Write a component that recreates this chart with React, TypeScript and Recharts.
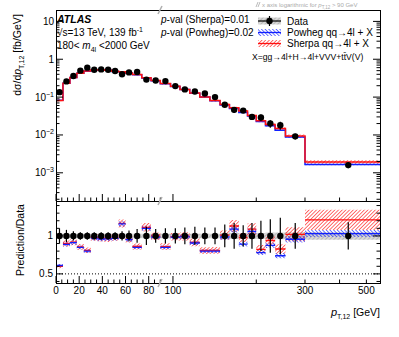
import React from "react";
import {
  ComposedChart, Line, Area, Scatter, XAxis, YAxis, ErrorBar, ReferenceLine,
} from "recharts";

// pT,12 bin edges [GeV]
const binEdges = [0, 6, 12, 18, 24, 30, 36, 42, 48, 54, 60, 66, 74, 82, 90, 98, 106, 115, 125, 136, 148, 160, 173, 186, 200, 216, 234, 255, 300, 560];
// where the data markers sit [GeV]
const pointPt = [3, 9, 15, 21, 27, 33, 39, 45, 51, 57, 63, 70, 78, 86, 93.9, 102, 110.4, 120, 130.4, 141.9, 153.9, 166.4, 179.4, 193, 207.9, 224.8, 244.3, 276.6, 430];
// measured dσ/dpT [fb/GeV]
const dataXsec = [0.135, 0.26, 0.36, 0.5, 0.6, 0.53, 0.54, 0.53, 0.49, 0.4, 0.45, 0.46, 0.29, 0.275, 0.265, 0.195, 0.16, 0.14, 0.125, 0.1, 0.063, 0.046, 0.044, 0.03, 0.029, 0.02, 0.018, 0.0092, 0.0016];
const dataRelErr = [0.1, 0.08, 0.06, 0.05, 0.05, 0.05, 0.05, 0.05, 0.05, 0.06, 0.07, 0.09, 0.12, 0.09, 0.1, 0.1, 0.11, 0.12, 0.11, 0.11, 0.15, 0.17, 0.14, 0.17, 0.2, 0.22, 0.24, 0.17, 0.18];
const dataRelSyst = [0.03, 0.03, 0.03, 0.03, 0.03, 0.03, 0.03, 0.03, 0.03, 0.03, 0.03, 0.03, 0.03, 0.03, 0.03, 0.03, 0.03, 0.03, 0.03, 0.03, 0.035, 0.04, 0.035, 0.04, 0.04, 0.045, 0.045, 0.05, 0.05];
// predictions
const sherpa = [0.081, 0.234, 0.331, 0.428, 0.486, 0.519, 0.524, 0.511, 0.48, 0.466, 0.43, 0.396, 0.323, 0.274, 0.228, 0.193, 0.159, 0.128, 0.101, 0.081, 0.0636, 0.052, 0.0431, 0.0327, 0.0239, 0.0188, 0.0149, 0.0094, 0.00194];
const sherpaRelUnc = [0.045, 0.045, 0.045, 0.045, 0.045, 0.045, 0.045, 0.045, 0.045, 0.045, 0.045, 0.045, 0.05, 0.05, 0.05, 0.05, 0.055, 0.055, 0.055, 0.055, 0.06, 0.07, 0.06, 0.07, 0.07, 0.07, 0.075, 0.09, 0.11];
const powheg = [0.0824, 0.231, 0.328, 0.425, 0.48, 0.514, 0.518, 0.509, 0.475, 0.464, 0.428, 0.391, 0.319, 0.271, 0.225, 0.192, 0.158, 0.127, 0.1, 0.08, 0.0621, 0.0501, 0.0392, 0.0318, 0.0226, 0.0175, 0.0133, 0.0088, 0.00165];
const powhegRelUnc = [0.03, 0.03, 0.03, 0.03, 0.03, 0.03, 0.03, 0.03, 0.03, 0.03, 0.03, 0.03, 0.03, 0.03, 0.03, 0.03, 0.03, 0.03, 0.03, 0.03, 0.035, 0.04, 0.035, 0.04, 0.04, 0.04, 0.045, 0.045, 0.045];

// axis ticks
const xTickPt = [0, 5, 10, 15, 20, 25, 30, 35, 40, 45, 50, 55, 60, 65, 70, 75, 80, 85, 90, 100, 200, 300, 400, 500];
const xLabelPt = [0, 20, 40, 60, 80, 100, 300, 500];
const yLogTicks = [0.0002, 0.0003, 0.0004, 0.0005, 0.0006, 0.0007, 0.0008, 0.0009, 0.001, 0.002, 0.003, 0.004, 0.005, 0.006, 0.007, 0.008, 0.009, 0.01, 0.02, 0.03, 0.04, 0.05, 0.06, 0.07, 0.08, 0.09, 0.1, 0.2, 0.3, 0.4, 0.5, 0.6, 0.7, 0.8, 0.9, 1, 2, 3, 4, 5, 6, 7, 8, 9, 10];
const ratioTicks = [0.4, 0.5, 0.6, 0.7, 0.8, 0.9, 1, 1.1, 1.2, 1.3, 1.4];

// x axis: linear up to 90 GeV, logarithmic above
const BREAK = 90;
const U_PER_DECADE = 238.8;
const toU = (pt: number) => (pt <= BREAK ? pt : BREAK + Math.log10(pt / BREAK) * U_PER_DECADE);
const fromU = (u: number) => (u <= BREAK ? u : BREAK * Math.pow(10, (u - BREAK) / U_PER_DECADE));
const U_MAX = toU(binEdges[binEdges.length - 1]);

const nBins = dataXsec.length;
const FONT = "'Liberation Sans', Arial, Helvetica, sans-serif";

const topSteps = binEdges.map((e, i) => {
  const j = Math.min(i, nBins - 1);
  return {
    u: toU(e),
    sherpa: sherpa[j],
    powheg: powheg[j],
    sherpaBand: [sherpa[j] * (1 - sherpaRelUnc[j]), sherpa[j] * (1 + sherpaRelUnc[j])],
    powhegBand: [powheg[j] * (1 - powhegRelUnc[j]), powheg[j] * (1 + powhegRelUnc[j])],
  };
});
const topPoints = dataXsec.map((v, i) => ({ u: toU(pointPt[i]), y: v, err: v * dataRelErr[i] }));

const ratioBoxes: any[] = [];
for (let i = 0; i < nBins; i++) {
  const rs = sherpa[i] / dataXsec[i];
  const rp = powheg[i] / dataXsec[i];
  const row = {
    rs, rp,
    rsBand: [rs * (1 - sherpaRelUnc[i]), rs * (1 + sherpaRelUnc[i])],
    rpBand: [rp * (1 - powhegRelUnc[i]), rp * (1 + powhegRelUnc[i])],
  };
  ratioBoxes.push({ u: toU(binEdges[i]), ...row });
  ratioBoxes.push({ u: toU(binEdges[i + 1]), ...row });
  ratioBoxes.push({ u: toU(binEdges[i + 1]), rs: null, rp: null, rsBand: null, rpBand: null });
}
const ratioSyst = binEdges.map((e, i) => {
  const s = dataRelSyst[Math.min(i, nBins - 1)];
  return { u: toU(e), band: [1 - s, 1 + s] };
});
const ratioPoints = pointPt.map((p, i) => ({ u: toU(p), y: 1, err: dataRelErr[i] }));

function XTick(props: any) {
  const { x, y, payload, labels } = props;
  const pt = Math.round(fromU(payload.value));
  const major = pt <= 100 && pt % 20 === 0;
  const len = major ? 7 : 3.5;
  return (
    <g>
      <line x1={x} y1={y} x2={x} y2={y - len} stroke="#000" strokeWidth={1} />
      {labels && xLabelPt.includes(pt) && (
        <text x={x} y={y + 11} textAnchor="middle" fontSize={10} fontFamily={FONT} fill="#000">{pt}</text>
      )}
    </g>
  );
}

function LogTick(props: any) {
  const { x, y, payload, side } = props;
  const e = Math.log10(payload.value);
  const major = Math.abs(e - Math.round(e)) < 1e-6;
  const len = major ? 7 : 3.5;
  const dir = side === "left" ? 1 : -1;
  const k = Math.round(e);
  return (
    <g>
      <line x1={x} y1={y} x2={x + dir * len} y2={y} stroke="#000" strokeWidth={1} />
      {side === "left" && major && (
        <text x={x - 2} y={y + 3.5} textAnchor="end" fontSize={10} fontFamily={FONT} fill="#000">
          {k === 0 ? "1" : "10"}
          {k < 0 && <tspan dy={-4} fontSize={7}>{"\u2212" + -k}</tspan>}
        </text>
      )}
    </g>
  );
}

function RatioTick(props: any) {
  const { x, y, payload, side } = props;
  const v = payload.value;
  const major = Math.abs(v - 0.5) < 1e-6 || Math.abs(v - 1) < 1e-6;
  const len = major ? 7 : 3.5;
  const dir = side === "left" ? 1 : -1;
  return (
    <g>
      <line x1={x} y1={y} x2={x + dir * len} y2={y} stroke="#000" strokeWidth={1} />
      {side === "left" && major && (
        <text x={x - 3} y={y + 3.5} textAnchor="end" fontSize={10} fontFamily={FONT} fill="#000">{v === 1 ? "1" : "0.5"}</text>
      )}
    </g>
  );
}

const dot = (p: any) => <circle cx={p.cx} cy={p.cy} r={3.2} fill="#000" />;

function Slash({ x, y }: { x: number; y: number }) {
  return <line x1={x - 2} y1={y + 4} x2={x + 2} y2={y - 4} stroke="#b0b0b0" strokeWidth={1.6} />;
}

export default function App() {
  // CartesianAxis refuses to draw with a zero size, so axes get 1px
  const xAxisCommon = {
    type: "number" as const,
    dataKey: "u",
    domain: [0, U_MAX],
    ticks: xTickPt.map(toU),
    interval: 0,
    tickSize: 0,
    tickMargin: 0,
    height: 1,
    axisLine: false,
    tickLine: false,
    allowDataOverflow: true,
  };
  const yAxisCommon = {
    type: "number" as const,
    allowDataOverflow: true,
    interval: 0,
    width: 1,
    tickSize: 0,
    tickMargin: 0,
    axisLine: false,
    tickLine: false,
  };
  return (
    <div style={{ position: "absolute", left: 0, top: 0, width: 399, height: 337, background: "#fff", fontFamily: FONT }}>
      <svg width={0} height={0} style={{ position: "absolute" }}>
        <defs>
          <pattern id="hatchRed" patternUnits="userSpaceOnUse" width={2.6} height={2.6} patternTransform="rotate(45)">
            <line x1={0} y1={0} x2={0} y2={2.6} stroke="#ff1010" strokeWidth={1.2} />
          </pattern>
          <pattern id="hatchBlue" patternUnits="userSpaceOnUse" width={2.6} height={2.6} patternTransform="rotate(-45)">
            <line x1={0} y1={0} x2={0} y2={2.6} stroke="#1020ff" strokeWidth={1.2} />
          </pattern>
          <pattern id="hatchGray" patternUnits="userSpaceOnUse" width={3} height={3} patternTransform="rotate(45)">
            <rect width={3} height={3} fill="#d8d8d8" />
            <line x1={0} y1={0} x2={0} y2={3} stroke="#999" strokeWidth={1} />
          </pattern>
        </defs>
      </svg>

      {/* main panel */}
      <div style={{ position: "absolute", left: 0, top: 0 }}>
        <ComposedChart width={399} height={202} margin={{ top: 10, right: 18, left: 55, bottom: 0 }}>
          <XAxis {...xAxisCommon} tick={(p: any) => <XTick {...p} labels={false} />} />
          <YAxis yAxisId="l" {...yAxisCommon} scale="log" domain={[0.00018, 20]} ticks={yLogTicks}
            tick={(p: any) => <LogTick {...p} side="left" />} />
          <YAxis yAxisId="r" orientation="right" {...yAxisCommon} scale="log" domain={[0.00018, 20]} ticks={yLogTicks}
            tick={(p: any) => <LogTick {...p} side="right" />} />
          <Area yAxisId="l" data={topSteps} dataKey="powhegBand" type="stepAfter" stroke="none" fill="url(#hatchBlue)" fillOpacity={1} isAnimationActive={false} />
          <Area yAxisId="l" data={topSteps} dataKey="sherpaBand" type="stepAfter" stroke="none" fill="url(#hatchRed)" fillOpacity={1} isAnimationActive={false} />
          <Line yAxisId="l" data={topSteps} dataKey="powheg" type="stepAfter" stroke="#1020ff" strokeWidth={1.5} dot={false} isAnimationActive={false} />
          <Line yAxisId="l" data={topSteps} dataKey="sherpa" type="stepAfter" stroke="#ff1010" strokeWidth={1.5} dot={false} isAnimationActive={false} />
          <Scatter yAxisId="l" data={topPoints} dataKey="y" shape={dot} isAnimationActive={false}>
            <ErrorBar dataKey="err" direction="y" width={0} stroke="#000" strokeWidth={1.2} />
          </Scatter>
        </ComposedChart>
      </div>

      {/* ratio panel */}
      <div style={{ position: "absolute", left: 0, top: 0 }}>
        <ComposedChart width={399} height={337} margin={{ top: 201, right: 18, left: 55, bottom: 53 }}>
          <XAxis {...xAxisCommon} tick={(p: any) => <XTick {...p} labels={true} />} />
          <YAxis yAxisId="l" {...yAxisCommon} domain={[0.38, 1.46]} ticks={ratioTicks}
            tick={(p: any) => <RatioTick {...p} side="left" />} />
          <YAxis yAxisId="r" orientation="right" {...yAxisCommon} domain={[0.38, 1.46]} ticks={ratioTicks}
            tick={(p: any) => <RatioTick {...p} side="right" />} />
          <ReferenceLine yAxisId="l" y={0.5} stroke="#000" strokeDasharray="1 2" />
          <Area yAxisId="l" data={ratioSyst} dataKey="band" type="stepAfter" stroke="none" fill="url(#hatchGray)" fillOpacity={1} isAnimationActive={false} />
          <Area yAxisId="l" data={ratioBoxes} dataKey="rsBand" type="linear" stroke="none" fill="url(#hatchRed)" fillOpacity={1} isAnimationActive={false} />
          <Area yAxisId="l" data={ratioBoxes} dataKey="rpBand" type="linear" stroke="none" fill="url(#hatchBlue)" fillOpacity={1} isAnimationActive={false} />
          <Line yAxisId="l" data={ratioBoxes} dataKey="rs" type="linear" stroke="#ff1010" strokeWidth={1.3} dot={false} isAnimationActive={false} />
          <Line yAxisId="l" data={ratioBoxes} dataKey="rp" type="linear" stroke="#1020ff" strokeWidth={1.3} dot={false} isAnimationActive={false} />
          <Scatter yAxisId="l" data={ratioPoints} dataKey="y" shape={dot} isAnimationActive={false}>
            <ErrorBar dataKey="err" direction="y" width={0} stroke="#000" strokeWidth={1.2} />
          </Scatter>
        </ComposedChart>
      </div>

      {/* frames */}
      <div style={{ position: "absolute", left: 56, top: 10, width: 325, height: 192, border: "1px solid #000", boxSizing: "border-box", pointerEvents: "none" }} />
      <div style={{ position: "absolute", left: 56, top: 201, width: 325, height: 83, border: "1px solid #000", boxSizing: "border-box", pointerEvents: "none" }} />

      {/* texts and legend */}
      <svg width={399} height={337} style={{ position: "absolute", left: 0, top: 0, pointerEvents: "none" }} fontFamily={FONT}>
        <text x={262} y={7} fontSize={6} fill="#aaa">x axis logarithmic for <tspan fontStyle="italic">p</tspan><tspan dy={1.5} fontSize={4.5}>T,12</tspan><tspan dy={-1.5}> &gt; 90 GeV</tspan></text>
        <line x1={256} y1={7} x2={258} y2={2} stroke="#bbb" strokeWidth={1} />
        <line x1={258} y1={7} x2={260} y2={2} stroke="#bbb" strokeWidth={1} />
        <Slash x={160} y={10} />
        <Slash x={160} y={201} />
        <Slash x={160} y={283} />

        <text x={57} y={23} fontSize={10.5} fontWeight="bold" fontStyle="italic" fill="#000">ATLAS</text>
        <text x={57} y={36} fontSize={10} fill="#000">√s=13 TeV, 139 fb<tspan dy={-4} fontSize={7}>-1</tspan></text>
        <text x={57} y={49} fontSize={10} fill="#000">180&lt; <tspan fontStyle="italic">m</tspan><tspan dy={2.5} fontSize={7}>4l</tspan><tspan dy={-2.5}> &lt;2000 GeV</tspan></text>

        <text x={161} y={23} fontSize={10} fill="#000"><tspan fontStyle="italic">p</tspan>-val (Sherpa)=0.01</text>
        <text x={161} y={36} fontSize={10} fill="#000"><tspan fontStyle="italic">p</tspan>-val (Powheg)=0.02</text>

        {/* legend: Data */}
        <rect x={258} y={17.5} width={23} height={7} fill="url(#hatchGray)" />
        <line x1={258} y1={21} x2={281} y2={21} stroke="#000" strokeWidth={1.2} />
        <line x1={269.5} y1={16} x2={269.5} y2={26} stroke="#000" strokeWidth={1.2} />
        <circle cx={269.5} cy={21} r={3.2} fill="#000" />
        <text x={287} y={24.5} fontSize={10} fill="#000">Data</text>
        {/* Powheg */}
        <rect x={258} y={29} width={23} height={7} fill="url(#hatchBlue)" />
        <line x1={258} y1={32.5} x2={281} y2={32.5} stroke="#1020ff" strokeWidth={1.3} />
        <text x={287} y={36} fontSize={10} fill="#000">Powheg qq→4l + X</text>
        {/* Sherpa */}
        <rect x={258} y={40} width={23} height={7} fill="url(#hatchRed)" />
        <line x1={258} y1={43.5} x2={281} y2={43.5} stroke="#ff1010" strokeWidth={1.3} />
        <text x={287} y={47} fontSize={10} fill="#000">Sherpa qq→4l + X</text>
        <text x={252} y={59.5} fontSize={8.6} fill="#000">X=gg→4l+H→4l+VVV+tt̄V(V)</text>

        <text transform="translate(21,55) rotate(-90)" textAnchor="middle" fontSize={10.5} fill="#000">
          dσ/d<tspan fontStyle="italic">p</tspan><tspan dy={3} fontSize={7}>T,12</tspan><tspan dy={-3}> [fb/GeV]</tspan>
        </text>
        <text transform="translate(24,240) rotate(-90)" textAnchor="middle" fontSize={10.5} fill="#000">Prediction/Data</text>
        <text x={380} y={316} textAnchor="end" fontSize={10.5} fill="#000">
          <tspan fontStyle="italic" fontSize={11}>p</tspan><tspan dy={3} fontSize={7}>T,12</tspan><tspan dy={-3}> [GeV]</tspan>
        </text>
      </svg>
    </div>
  );
}
